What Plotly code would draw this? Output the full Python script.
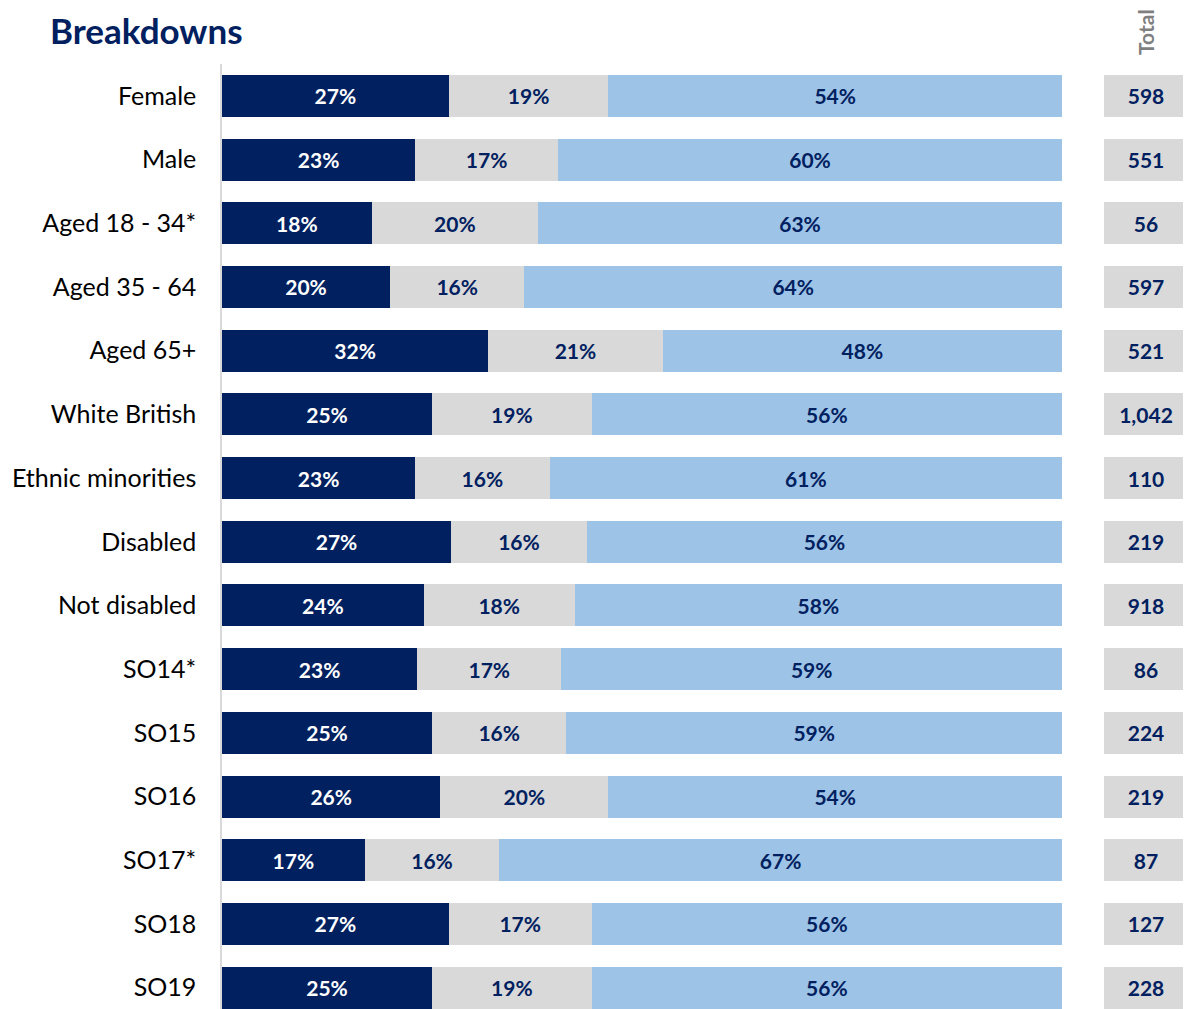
import plotly.graph_objects as go

categories = ["Female", "Male", "Aged 18 - 34*", "Aged 35 - 64", "Aged 65+",
              "White British", "Ethnic minorities", "Disabled", "Not disabled",
              "SO14*", "SO15", "SO16", "SO17*", "SO18", "SO19"]
dark_vals = [27, 23, 18, 20, 32, 25, 23, 27, 24, 23, 25, 26, 17, 27, 25]
grey_vals = [19, 17, 20, 16, 21, 19, 16, 16, 18, 17, 16, 20, 16, 17, 19]
light_vals = [54, 60, 63, 64, 48, 56, 61, 56, 58, 59, 59, 54, 67, 56, 56]
totals = [598, 551, 56, 597, 521, 1042, 110, 219, 918, 86, 224, 219, 87, 127, 228]

DARK = "#002060"
GREY = "#D9D9D9"
LIGHT = "#9DC3E6"
FONT = "Lato"
BW = 0.66

fig = go.Figure()
series = [
    ("Dark", dark_vals, DARK, "white"),
    ("Grey", grey_vals, GREY, DARK),
    ("Light", light_vals, LIGHT, DARK),
]
for name, vals, col, tcol in series:
    fig.add_trace(go.Bar(
        y=categories, x=vals, orientation="h", name=name,
        marker=dict(color=col, line=dict(width=0)), width=BW,
        text=[f"{v}%" for v in vals], textposition="inside",
        insidetextanchor="middle", textangle=0,
        textfont=dict(color=tcol, size=21, family=FONT, weight="bold"),
        hoverinfo="skip", xaxis="x", yaxis="y"))

fig.add_trace(go.Bar(
    y=categories, x=[1] * len(categories), orientation="h", name="Total",
    marker=dict(color=GREY, line=dict(width=0)), width=BW,
    text=[f"{t:,}" for t in totals], textposition="inside",
    insidetextanchor="middle", textangle=0,
    textfont=dict(color=DARK, size=21, family=FONT, weight="bold"),
    hoverinfo="skip", xaxis="x2", yaxis="y"))

# page body has an 8px margin; figure coordinates are page coords minus 8
OFF = 8
W, H = 1191 - OFF, 1009 - OFF
ml, mr, mt, mb = 222 - OFF, 3, 64 - OFF, 0
pw = W - ml - mr
ph = H - mt - mb
fig.update_layout(
    width=W, height=H,
    margin=dict(l=ml, r=mr, t=mt, b=mb, pad=0),
    barmode="stack", barnorm="percent",
    showlegend=False,
    plot_bgcolor="white", paper_bgcolor="white",
    font=dict(family=FONT, color="black"),
    xaxis=dict(domain=[0, 840 / pw], range=[0, 100], showgrid=False,
               zeroline=False, showticklabels=False, showline=False),
    xaxis2=dict(domain=[(1104 - OFF - ml) / pw, 1.0], range=[0, 100], anchor="y",
                showgrid=False, zeroline=False, showticklabels=False, showline=False),
    yaxis=dict(type="category", range=[14.335, -0.5], showgrid=False, zeroline=False,
               showline=True, linecolor="#D9D9D9", linewidth=1.5,
               ticks="", ticklabelstandoff=19,
               tickfont=dict(size=25, color="black", family=FONT)),
)
fig.add_annotation(text="<b>Breakdowns</b>", xref="paper", yref="paper",
                   x=(48 - OFF - ml) / pw, y=1 + (mt - (30 - OFF)) / ph,
                   xanchor="left", yanchor="middle", showarrow=False,
                   font=dict(size=35, color=DARK, family=FONT))
fig.add_annotation(text="<b>Total</b>", xref="paper", yref="paper",
                   x=(1145 - OFF - ml) / pw, y=1 + (mt - (32 - OFF)) / ph,
                   xanchor="center", yanchor="middle", textangle=-90, showarrow=False,
                   font=dict(size=21, color="#7F7F7F", family=FONT))

fig.write_html("out.html")
